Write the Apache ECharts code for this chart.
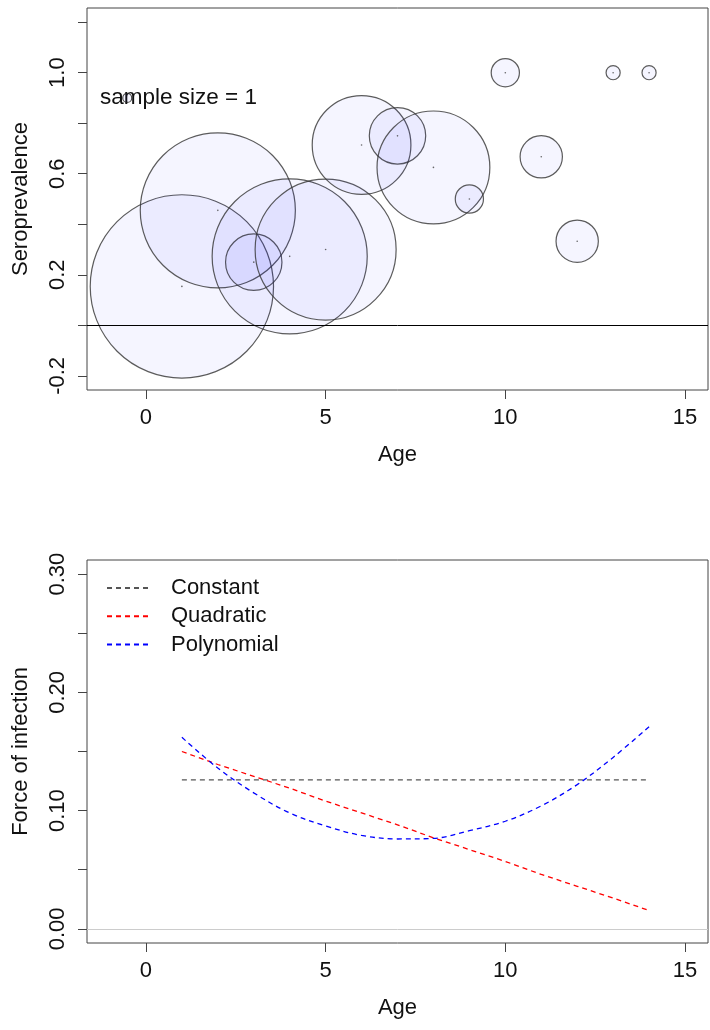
<!DOCTYPE html>
<html>
<head>
<meta charset="utf-8">
<title>Seroprevalence and force of infection</title>
<script src="https://cdn.jsdelivr.net/npm/echarts@6/dist/echarts.min.js"></script>
<style>
    html, body { margin: 0; padding: 0; background: #fff; }
    #mainChart { width: 710px; height: 1030px; }
</style>
</head>
<body>
<div id="mainChart"></div>
<script>
// top panel: observed seroprevalence per age, circle area ~ sample size
const ages = [1, 2, 3, 4, 5, 6, 7, 8, 9, 10, 11, 12, 13, 14];
const seroprevalence = [0.154, 0.455, 0.25, 0.273, 0.30, 0.714, 0.75, 0.625, 0.5, 1.0, 0.667, 0.333, 1.0, 1.0];
const sampleSize = [169, 121, 16, 121, 100, 49, 16, 64, 4, 4, 9, 9, 1, 1];

// bottom panel: fitted force of infection per age
const constantFoi = [0.126, 0.126, 0.126, 0.126, 0.126, 0.126, 0.126, 0.126, 0.126, 0.126, 0.126, 0.126, 0.126, 0.126];
const quadraticFoi = [0.150, 0.139, 0.129, 0.119, 0.108, 0.098, 0.088, 0.077, 0.067, 0.057, 0.046, 0.036, 0.026, 0.0155];
const polynomialFoi = [0.162, 0.136, 0.115, 0.098, 0.087, 0.079, 0.076, 0.0765, 0.083, 0.091, 0.104, 0.122, 0.145, 0.171];

// ticks / labels
const xTicks = [0, 5, 10, 15];
const topYTicks = [-0.2, 0, 0.2, 0.4, 0.6, 0.8, 1.0, 1.2];
const topYLabels = [-0.2, 0.2, 0.6, 1.0];
const bottomYTicks = [0, 0.05, 0.10, 0.15, 0.20, 0.25, 0.30];
const bottomYLabels = [0, 0.10, 0.20, 0.30];

const fontFamily = "'Liberation Sans', Arial, sans-serif";
const textColor = '#111';
const bubbleScale = 7.05; // px radius for sample size 1

function pairs(ys) {
    return ages.map((a, i) => [a, ys[i]]);
}

function xAxisFor(gridIndex) {
    return {
        type: 'value',
        gridIndex: gridIndex,
        min: -1.64,
        max: 15.64,
        name: 'Age',
        nameLocation: 'middle',
        nameGap: 54,
        nameTextStyle: {fontSize: 22, color: textColor, fontFamily: fontFamily},
        axisLine: {show: false, onZero: false},
        axisTick: {show: true, length: 9, customValues: xTicks, lineStyle: {color: '#444'}},
        axisLabel: {customValues: xTicks, fontSize: 22, color: textColor, margin: 17, fontFamily: fontFamily},
        splitLine: {show: false}
    };
}

function yAxisFor(gridIndex, name, min, max, ticks, labels, digits) {
    return {
        type: 'value',
        gridIndex: gridIndex,
        min: min,
        max: max,
        name: name,
        nameLocation: 'middle',
        nameGap: 55,
        nameTextStyle: {fontSize: 22, color: textColor, fontFamily: fontFamily},
        axisLine: {show: false, onZero: false},
        axisTick: {show: true, length: 9, customValues: ticks, lineStyle: {color: '#444'}},
        axisLabel: {
            customValues: labels, rotate: 90, fontSize: 22, color: textColor, margin: 18,
            fontFamily: fontFamily,
            formatter: function (v) { return v.toFixed(digits); }
        },
        splitLine: {show: false}
    };
}

function dashed(name, color, ys, smooth) {
    return {
        name: name,
        type: 'line',
        xAxisIndex: 1,
        yAxisIndex: 1,
        data: pairs(ys),
        symbol: 'none',
        smooth: smooth,
        lineStyle: {color: color, width: 1.3, type: [5, 4]},
        itemStyle: {color: color},
        z: 3
    };
}

const option = {
    animation: false,
    backgroundColor: '#fff',
    textStyle: {fontFamily: fontFamily},
    grid: [
        {left: 87, right: 2, top: 8, bottom: 640, show: true, borderColor: '#444', borderWidth: 1},
        {left: 87, right: 2, top: 560, bottom: 87, show: true, borderColor: '#444', borderWidth: 1}
    ],
    xAxis: [xAxisFor(0), xAxisFor(1)],
    yAxis: [
        yAxisFor(0, 'Seroprevalence', -0.256, 1.256, topYTicks, topYLabels, 1),
        yAxisFor(1, 'Force of infection', -0.012, 0.312, bottomYTicks, bottomYLabels, 2)
    ],
    legend: {
        data: ['Constant', 'Quadratic', 'Polynomial'],
        orient: 'vertical',
        left: 106,
        top: 577,
        padding: 0,
        itemWidth: 43,
        itemHeight: 14,
        itemGap: 6.3,
        itemStyle: {opacity: 0},
        textStyle: {fontSize: 22, lineHeight: 22, color: textColor, fontFamily: fontFamily, padding: [0, 0, 0, 16]}
    },
    graphic: [
        {
            type: 'text',
            left: 100,
            top: 86,
            z: 10,
            style: {text: 'sample size = 1', fontSize: 22.5, fill: textColor, fontFamily: fontFamily}
        }
    ],
    series: [
        {
            name: 'bubbles',
            type: 'scatter',
            xAxisIndex: 0,
            yAxisIndex: 0,
            data: ages.map((a, i) => [a, seroprevalence[i], sampleSize[i]]),
            symbolSize: function (d) { return 2 * bubbleScale * Math.sqrt(d[2]); },
            itemStyle: {color: 'rgba(0,0,255,0.05)', borderColor: '#333', borderWidth: 1.2},
            silent: true,
            markLine: {
                silent: true,
                symbol: 'none',
                label: {show: false},
                lineStyle: {color: '#000', width: 1, type: 'solid'},
                data: [{yAxis: 0}]
            }
        },
        {
            name: 'centres',
            type: 'scatter',
            xAxisIndex: 0,
            yAxisIndex: 0,
            data: pairs(seroprevalence),
            symbolSize: 1.6,
            itemStyle: {color: '#444'},
            silent: true,
            z: 4
        },
        {
            name: 'size key',
            type: 'scatter',
            xAxisIndex: 0,
            yAxisIndex: 0,
            data: [[-0.52, 0.9]],
            symbolSize: 9,
            itemStyle: {color: 'rgba(0,0,255,0.05)', borderColor: '#222', borderWidth: 1.2},
            silent: true,
            z: 11
        },
        Object.assign(dashed('Constant', '#555555', constantFoi, false), {
            markLine: {
                silent: true,
                symbol: 'none',
                label: {show: false},
                lineStyle: {color: '#cccccc', width: 1, type: 'solid'},
                data: [{yAxis: 0}]
            }
        }),
        dashed('Quadratic', '#ff0000', quadraticFoi, false),
        dashed('Polynomial', '#0000ff', polynomialFoi, 0.35)
    ]
};

const myChart = echarts.init(document.getElementById('mainChart'));
myChart.setOption(option);
</script>
</body>
</html>
